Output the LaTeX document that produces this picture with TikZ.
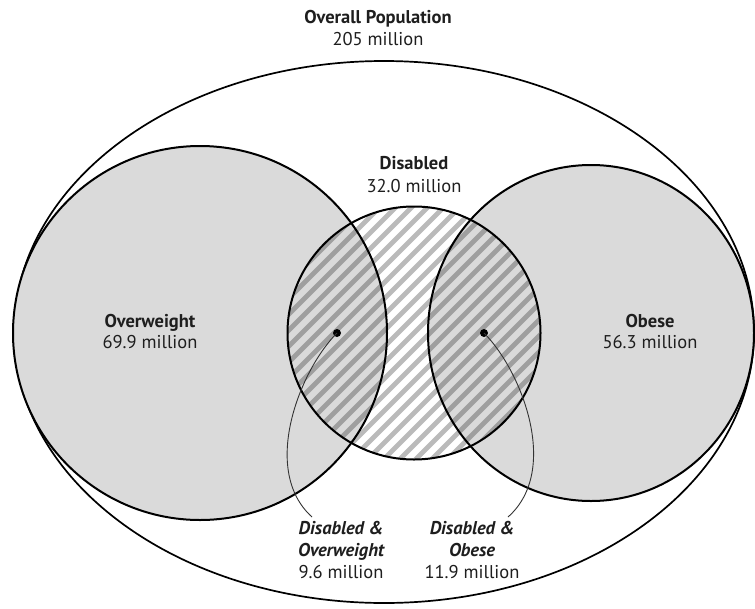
\documentclass[tikz,border=0pt]{standalone}
\usepackage{fontspec}
\setmainfont{PT Sans}
\definecolor{setfill}{HTML}{DADADA}
\definecolor{txt}{HTML}{1E1E1E}
\begin{document}
\begin{tikzpicture}[x=1pt,y=-1pt,
  setline/.style={draw=black,line width=2pt},
  hatchline/.style={draw=black,draw opacity=0.27,line width=4.8pt},
  lbl/.style={anchor=base,inner sep=0pt,text=txt,font=\fontsize{18.5}{22}\selectfont},
  lblb/.style={lbl,font=\fontsize{18.5}{22}\selectfont\bfseries},
  lblbi/.style={lbl,font=\fontsize{18.5}{22}\selectfont\bfseries\itshape},
  leader/.style={draw=black!80,line width=0.9pt},
  dotmark/.style={circle,fill=black,inner sep=0pt,minimum size=8pt}]
\useasboundingbox (0,0) rectangle (755,608);
% outer population ellipse
\draw[setline,line width=1.7pt,fill=white] (384,332) ellipse [x radius=370,y radius=271];
% overweight and obese sets
\fill[setfill] (200,333) circle [radius=187];
\fill[setfill] (591,333) ellipse [x radius=163,y radius=168];
% disabled hatching
\begin{scope}
  \clip (414,333) circle [radius=126.5];
  \foreach \i in {-13,...,13}
    \draw[hatchline] ({414+16*\i-200},{333+200}) -- ++(400,-400);
\end{scope}
% outlines
\draw[setline] (200,333) circle [radius=187];
\draw[setline] (591,333) ellipse [x radius=163,y radius=168];
\draw[setline] (414,333) circle [radius=126.5];
% dots
\node[dotmark] (dotL) at (337,333) {};
\node[dotmark] (dotR) at (484,333) {};
% labels
\node[lblb] (popA) at (378,23) {Overall Population};
\node[lbl]  (popB) at (378,45) {205 million};
\node[lblb] (disA) at (414,169) {Disabled};
\node[lbl]  (disB) at (414,192) {32.0 million};
\node[lblb] (owA) at (150,327) {Overweight};
\node[lbl]  (owB) at (150,348) {69.9 million};
\node[lblb] (obA) at (650,327) {Obese};
\node[lbl]  (obB) at (650,348) {56.3 million};
\node[lblbi] (doA) at (341,534) {Disabled \&};
\node[lblbi] (doB) at (341,556) {Overweight};
\node[lbl]   (doC) at (341,578) {9.6 million};
\node[lblbi] (dbA) at (472,534) {Disabled \&};
\node[lblbi] (dbB) at (472,556) {Obese};
\node[lbl]   (dbC) at (472,578) {11.9 million};
% leaders
\coordinate (endL) at (312,517);
\coordinate (endR) at (508,517);
\draw[leader] (dotL.center) .. controls (300,370) and (260,470) .. (endL);
\draw[leader] (dotR.center) .. controls (521,370) and (561,470) .. (endR);
\end{tikzpicture}
\end{document}
